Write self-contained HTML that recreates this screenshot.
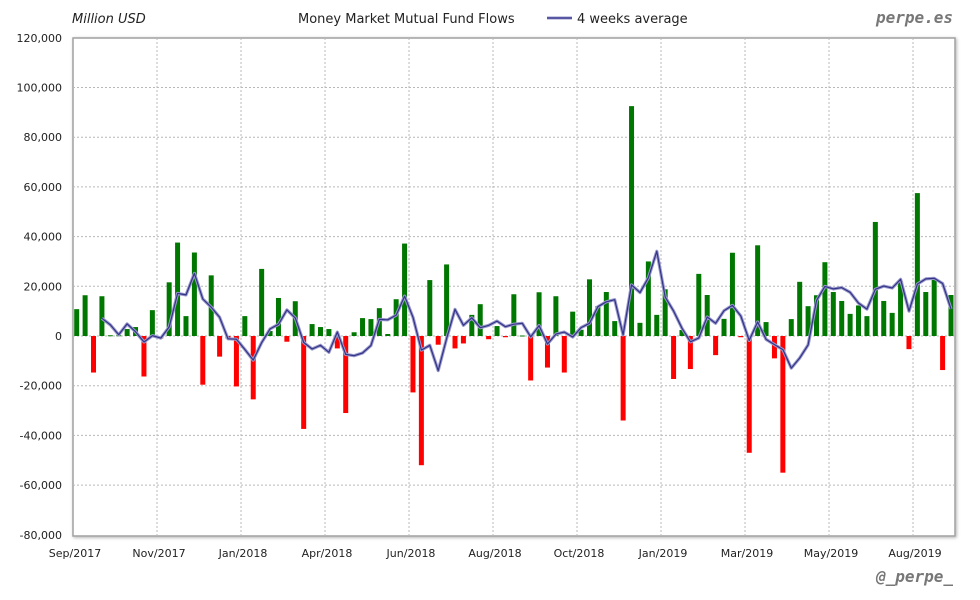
<!DOCTYPE html>
<html><head><meta charset="utf-8"><style>
html,body{margin:0;padding:0;background:#fff;}
svg{display:block;font-family:"DejaVu Sans","Liberation Sans",sans-serif;}
</style></head><body>
<svg id="s" width="980" height="600" xmlns="http://www.w3.org/2000/svg">
<defs><filter id="sh" x="-5%" y="-5%" width="110%" height="110%"><feDropShadow dx="1" dy="1" stdDeviation="1.5" flood-color="#000" flood-opacity="0.3"/></filter></defs>
<rect x="73" y="38" width="882" height="498" fill="#fff" stroke="#a0a0a0" stroke-width="1.5" filter="url(#sh)"/>
<g id="grid"></g>
<g id="bars"></g>
<g id="line"></g>
<text x="72" y="23" font-size="13" font-style="italic" fill="#222">Million USD</text>
<text x="298" y="23" font-size="13" fill="#222">Money Market Mutual Fund Flows</text>
<line x1="547" y1="18" x2="572" y2="18" stroke="#9999cc" stroke-width="3"/>
<line x1="547" y1="18" x2="572" y2="18" stroke="#333388" stroke-width="1.3"/>
<text x="577" y="23" font-size="13" fill="#222">4 weeks average</text>
<text x="953" y="23" font-size="16" font-weight="bold" font-style="italic" fill="#777" text-anchor="end" font-family="DejaVu Sans Mono,Liberation Mono,monospace">perpe.es</text>
<text x="953" y="582" font-size="16" font-weight="bold" font-style="italic" fill="#777" text-anchor="end" font-family="DejaVu Sans Mono,Liberation Mono,monospace">@_perpe_</text>
<g id="labels" font-size="11" fill="#222"></g>
</svg>
<script>
var v=[10.8,16.4,-14.7,16,0.3,0.3,2.8,3.6,-16.3,10.4,-1,21.6,37.6,8,33.6,-19.6,24.4,-8.3,-1,-20.3,8,-25.5,27,2,15.3,-2.3,14,-37.4,4.8,3.6,2.8,-5,-31,1.5,
7.2,6.8,11.2,0.8,14.8,37.2,-22.7,-52,22.5,-3.5,28.8,-5,-3,8.5,12.8,-1.3,4,-0.5,16.8,0.2,-17.9,17.6,-12.7,16,-14.7,9.8,2.5,22.8,12,17.7,6,-34,92.5,5.3,30,
8.5,18.8,-17.3,2.4,-13.3,25,16.5,-7.7,6.9,33.5,-0.5,-47,36.5,5.6,-9,-55,6.8,21.8,12,16.4,29.7,17.7,14.1,8.9,12.3,8,45.9,14.1,9.3,22,-5.3,57.5,17.7,23,-13.7,16.5];
var NS="http://www.w3.org/2000/svg";
function el(t,a,p){var e=document.createElementNS(NS,t);for(var k in a)e.setAttribute(k,a[k]);document.getElementById(p).appendChild(e);return e;}
function Y(val){return 336-val*2.485;}
var g="grid";
for(var i=-80;i<=120;i+=20){var y=Y(i);
 if(i>-80&&i<120)el("line",{x1:73,x2:955,y1:y,y2:y,stroke:"#b8b8b8","stroke-dasharray":"2,2","stroke-width":1},g);
 var t=el("text",{x:62,y:y+4,"text-anchor":"end"},"labels");t.textContent=(i<0?"-":"")+Math.abs(i*1000).toLocaleString("en-US");}
var ml=["Sep/2017","Nov/2017","Jan/2018","Apr/2018","Jun/2018","Aug/2018","Oct/2018","Jan/2019","Mar/2019","May/2019","Aug/2019"];
for(var j=0;j<11;j++){var x=73+j*84;
 if(j>0)el("line",{x1:x,x2:x,y1:38,y2:536,stroke:"#b8b8b8","stroke-dasharray":"2,2","stroke-width":1},g);
 var t=el("text",{x:x+2,y:557,"text-anchor":"middle"},"labels");t.textContent=ml[j];}
var dx=(951-76.7)/(v.length-1);
var pts=[];
for(var i=0;i<v.length;i++){var cx=76.7+i*dx;var y0=Y(0),y1=Y(v[i]);
 el("rect",{x:cx-2.5,y:Math.min(y0,y1),width:5,height:Math.max(1,Math.abs(y1-y0)),fill:v[i]>=0?"#007700":"#ff0000"},"bars");
 if(i>=3){var a=(v[i]+v[i-1]+v[i-2]+v[i-3])/4;pts.push(cx.toFixed(1)+","+Y(a).toFixed(1));}}
el("polyline",{points:pts.join(" "),fill:"none",stroke:"#9999cc","stroke-width":3.2,"stroke-linejoin":"round"},"line");
el("polyline",{points:pts.join(" "),fill:"none",stroke:"#333388","stroke-width":1.2,"stroke-linejoin":"round"},"line");
</script>
</body></html>
